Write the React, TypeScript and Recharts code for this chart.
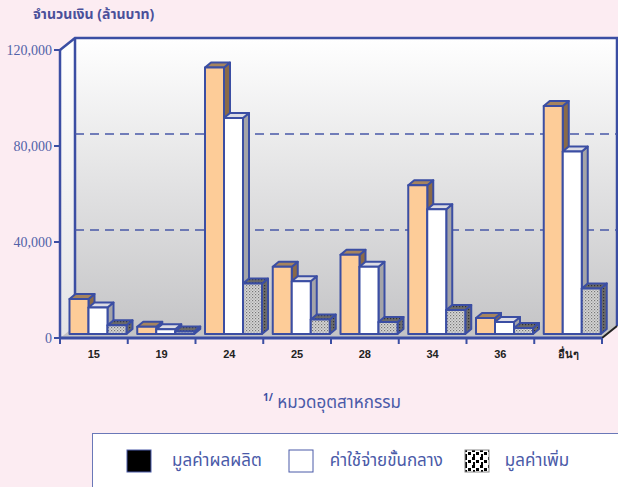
import { BarChart, Bar, XAxis, YAxis, CartesianGrid, ReferenceArea } from 'recharts'

const categories = ['15', '19', '24', '25', '28', '34', '36', 'อื่นๆ']
const outputValue = [14600, 3000, 111000, 28000, 33000, 62000, 6700, 95000]
const intermediateCost = [11000, 2000, 90000, 22000, 28000, 52000, 5000, 76000]
const valueAdded = [3600, 1000, 21000, 6000, 5000, 10000, 2500, 19000]
const yTicks = [0, 40000, 80000, 120000]

const seriesNames = ['มูลค่าผลผลิต', 'ค่าใช้จ่ายขั้นกลาง', 'มูลค่าเพิ่ม']

const data = categories.map((c, i) => ({
    name: c,
    output: outputValue[i],
    intermediate: intermediateCost[i],
    added: valueAdded[i],
}))

const BLUE = '#3b4ea3'
const PINK = '#fcecf2'
const THAI = '"Noto Sans Thai", "Noto Serif Thai", "Loma", "Garuda", "Norasi", "DejaVu Sans", serif'

// chart frame
const TOP = 50
const BOTTOM = 338
const LEFT = 60
const RIGHT = 602
const DEPTH_X = 15
const DEPTH_Y = -12

const makeBar = (front: string, top: string, side: string) => (props: any) => {
    const { x, y, width, height } = props
    if (width == null || height == null) return <g />
    const sx = x + 4.5
    const sy = y - 4
    const w = width
    const h = Math.max(height, 1)
    const dx = 6
    const dy = -5
    return (
        <g stroke={BLUE} strokeWidth={2} strokeLinejoin="round">
            <polygon points={`${sx + w},${sy} ${sx + w + dx},${sy + dy} ${sx + w + dx},${sy + h + dy} ${sx + w},${sy + h}`} fill={side} />
            <polygon points={`${sx},${sy} ${sx + dx},${sy + dy} ${sx + w + dx},${sy + dy} ${sx + w},${sy}`} fill={top} />
            <rect x={sx} y={sy} width={w} height={h} fill={front} />
        </g>
    )
}

const Walls = (props: any) => {
    const { x, y, width, height } = props
    const l = x, r = x + width, t = y, b = y + height
    const bl = l + DEPTH_X, br = r + DEPTH_X, bt = t + DEPTH_Y, bb = b + DEPTH_Y
    return (
        <g>
            <rect x={bl} y={bt} width={br - bl} height={bb - bt} fill="url(#wallGrad)" />
            <polygon points={`${l},${t} ${bl},${bt} ${bl},${bb} ${l},${b}`} fill="url(#sideGrad)" />
            <polygon points={`${l},${b} ${bl},${bb} ${br},${bb} ${r},${b}`} fill="#c4c4c6" />
            <polyline points={`${l},${t} ${bl},${bt} ${br},${bt} ${br},${bb}`} fill="none" stroke={BLUE} strokeWidth={2.5} />
            <line x1={bl} y1={bt} x2={bl} y2={bb} stroke={BLUE} strokeWidth={2.5} />
            <line x1={r} y1={b} x2={br} y2={bb} stroke="#222" strokeWidth={2} />
        </g>
    )
}

const GridLine = (props: any) => {
    const { x1, y1, x2, y2 } = props
    if (y1 <= TOP + 1 || y1 >= BOTTOM - 1) return <g key={props.key} />
    return (
        <line key={props.key} x1={x1 + DEPTH_X} y1={y1 + DEPTH_Y} x2={x2 + DEPTH_X} y2={y2 + DEPTH_Y}
            stroke="#4858a8" strokeWidth={1.3} strokeDasharray="9 6" />
    )
}

const band = (RIGHT - LEFT) / categories.length

const XTick = (props: any) => {
    const { x, y, payload, index } = props
    return (
        <g>
            <line x1={x - band / 2} y1={BOTTOM} x2={x - band / 2} y2={BOTTOM + 6} stroke={BLUE} strokeWidth={2} />
            {index === categories.length - 1 && (
                <line x1={x + band / 2} y1={BOTTOM} x2={x + band / 2} y2={BOTTOM + 6} stroke={BLUE} strokeWidth={2} />
            )}
            <text x={x} y={y + 12} textAnchor="middle" fontFamily="Liberation Sans, Arial, sans-serif"
                fontWeight="bold" fontSize={11} fill="#222">{payload.value}</text>
        </g>
    )
}

const LegendSwatch = ({ kind }: { kind: number }) => (
    <svg width={26} height={24} style={{ flexShrink: 0 }}>
        <defs>
            <pattern id="legendDots" width="8" height="8" patternUnits="userSpaceOnUse">
                <rect width="8" height="8" fill="#fff" />
                <rect x="0" y="0" width="3" height="3" fill="#000" />
                <rect x="4" y="3" width="3" height="3" fill="#000" />
                <rect x="1" y="5" width="2" height="3" fill="#000" />
            </pattern>
        </defs>
        <rect x={1} y={1} width={24} height={22}
            fill={kind === 0 ? '#000' : kind === 1 ? '#fff' : 'url(#legendDots)'}
            stroke={kind === 2 ? '#888' : '#4a5aa8'} strokeWidth={1} />
    </svg>
)

export default function App() {
    return (
        <div style={{ position: 'relative', width: 618, height: 487, background: PINK, overflow: 'hidden' }}>
            <style>{'body{margin:0}'}</style>
            <div style={{ position: 'absolute', left: 33, top: 4, fontFamily: THAI, fontWeight: 'bold', fontSize: 14, color: '#4a509a' }}>
                จำนวนเงิน (ล้านบาท)
            </div>
            <BarChart width={618} height={487} data={data}
                margin={{ top: TOP, right: 618 - RIGHT, left: 0, bottom: 487 - BOTTOM - 30 }}
                barCategoryGap={5} barGap={0}>
                <defs>
                    <linearGradient id="wallGrad" x1="0" y1="0" x2="0" y2="1">
                        <stop offset="0%" stopColor="#ffffff" />
                        <stop offset="100%" stopColor="#c6c6c8" />
                    </linearGradient>
                    <linearGradient id="sideGrad" x1="0" y1="0" x2="0" y2="1">
                        <stop offset="0%" stopColor="#ffffff" />
                        <stop offset="100%" stopColor="#e4e4e6" />
                    </linearGradient>
                    <pattern id="addedFront" width="3" height="3" patternUnits="userSpaceOnUse">
                        <rect width="3" height="3" fill="#d6d6d6" />
                        <rect x="0" y="0" width="1.2" height="1.2" fill="#777" />
                        <rect x="1.5" y="1.5" width="1.2" height="1.2" fill="#999" />
                    </pattern>
                    <pattern id="addedSide" width="3" height="3" patternUnits="userSpaceOnUse">
                        <rect width="3" height="3" fill="#6a6a6a" />
                        <rect x="0" y="0" width="1.2" height="1.2" fill="#333" />
                    </pattern>
                </defs>
                <ReferenceArea y1={0} y2={120000} shape={<Walls />} zIndex={-200} ifOverflow="visible" />
                <CartesianGrid vertical={false} horizontal={GridLine} zIndex={-100} />
                <YAxis width={LEFT} domain={[0, 120000]} ticks={yTicks} interval={0}
                    tickFormatter={(v: number) => v.toLocaleString('en-US')}
                    axisLine={{ stroke: BLUE, strokeWidth: 2.5 }} tickLine={{ stroke: BLUE, strokeWidth: 2 }}
                    tickSize={6} tick={{ fill: '#5262a8', fontSize: 14, fontFamily: 'Liberation Serif, serif' }} />
                <XAxis dataKey="name" height={30} interval={0} tickLine={false}
                    axisLine={{ stroke: BLUE, strokeWidth: 3 }} tick={<XTick />} />
                <Bar dataKey="output" name={seriesNames[0]} isAnimationActive={false}
                    shape={makeBar('#fdcc98', '#a6845e', '#8a6a48')} />
                <Bar dataKey="intermediate" name={seriesNames[1]} isAnimationActive={false}
                    shape={makeBar('#ffffff', '#dcdce4', '#a4a4a8')} />
                <Bar dataKey="added" name={seriesNames[2]} isAnimationActive={false}
                    shape={makeBar('url(#addedFront)', 'url(#addedSide)', 'url(#addedSide)')} />
            </BarChart>
            <div style={{ position: 'absolute', left: 263, top: 390, fontFamily: THAI, fontSize: 17, color: '#4a5aa8' }}>
                <sup style={{ fontSize: 10, fontWeight: 'bold', color: '#3b4ea3' }}>1/</sup> หมวดอุตสาหกรรม
            </div>
            <div style={{
                position: 'absolute', left: 92, top: 433, width: 540, height: 60, background: '#fff',
                border: '1.5px solid #6a78b8', boxSizing: 'border-box', display: 'flex', alignItems: 'flex-start',
                paddingTop: 14, paddingLeft: 33, fontFamily: THAI, fontSize: 17, color: '#4a5aa8',
            }}>
                {seriesNames.map((n, i) => (
                    <div key={n} style={{ display: 'flex', alignItems: 'center', marginRight: i === 0 ? 26 : 21 }}>
                        <LegendSwatch kind={i} />
                        <span style={{ marginLeft: i === 2 ? 15 : i === 1 ? 16 : 20 }}>{n}</span>
                    </div>
                ))}
            </div>
        </div>
    )
}
